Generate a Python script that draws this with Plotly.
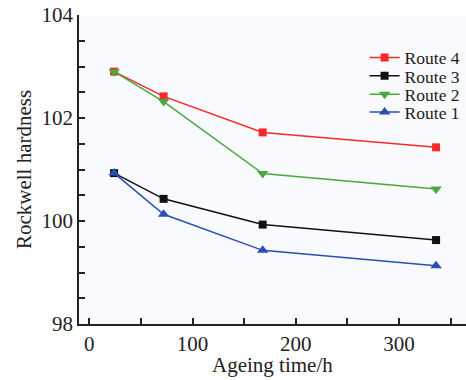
import plotly.graph_objects as go

time_h = [24, 72, 168, 336]
route4 = [102.90, 102.42, 101.72, 101.43]
route3 = [100.93, 100.43, 99.93, 99.63]
route2 = [102.90, 102.32, 100.92, 100.62]
route1 = [100.93, 100.13, 99.43, 99.13]

series = [
    ("Route 4", route4, "#f52a2a", "square", 8),
    ("Route 3", route3, "#111111", "square", 8),
    ("Route 2", route2, "#4aa83c", "triangle-down", 10),
    ("Route 1", route1, "#2a4fb0", "triangle-up", 10),
]
legend_ids = ["legend", "legend2", "legend3", "legend4"]
legend_rows_y = [0.862, 0.803, 0.743, 0.686]

font = "Liberation Serif, Times New Roman, serif"

fig = go.Figure()
for (name, vals, col, sym, sz), lid in zip(series, legend_ids):
    fig.add_trace(go.Scatter(
        x=time_h, y=vals, name=name, mode="lines+markers",
        line=dict(color=col, width=1.5),
        marker=dict(symbol=sym, size=sz, color=col),
        legend=lid,
    ))

legends = {}
for lid, ly in zip(legend_ids, legend_rows_y):
    legends[lid] = dict(
        x=0.738, y=ly, xanchor="left", yanchor="middle",
        bgcolor="rgba(0,0,0,0)", font=dict(size=17.5, family=font, color="#222222"),
        itemwidth=30,
    )

fig.update_layout(
    width=466, height=380,
    margin=dict(l=79, r=0, t=15, b=56, autoexpand=False),
    paper_bgcolor="white",
    plot_bgcolor="#f8fafd",
    font=dict(family=font, color="#222222"),
    showlegend=True,
    **legends,
    xaxis=dict(
        range=[-10, 365], showgrid=False, zeroline=False, automargin=False,
        showline=True, linecolor="#222222", linewidth=1.5,
        tickmode="array", tickvals=[0, 100, 200, 300],
        ticks="inside", ticklen=6, tickwidth=1.5, tickcolor="#222222",
        minor=dict(tickvals=[50, 150, 250, 350], ticks="inside", ticklen=6, tickwidth=1.5, tickcolor="#222222"),
        tickfont=dict(size=21, family=font),
    ),
    yaxis=dict(
        range=[98, 104], showgrid=False, zeroline=False, automargin=False,
        showline=True, linecolor="#222222", linewidth=1.5,
        tickmode="array", tickvals=[98, 100, 102, 104],
        ticks="inside", ticklen=6, tickwidth=1.5, tickcolor="#222222",
        minor=dict(tickvals=[98.5, 99, 99.5, 100.5, 101, 101.5, 102.5, 103, 103.5], ticks="inside", ticklen=6, tickwidth=1.5, tickcolor="#222222"),
        tickfont=dict(size=21, family=font),
        title=dict(text="Rockwell hardness", font=dict(size=21, family=font), standoff=4),
    ),
    annotations=[dict(
        text="Ageing time/h", xref="paper", yref="paper", x=0.5, y=-0.133,
        xanchor="center", yanchor="middle", showarrow=False,
        font=dict(size=21, family=font, color="#222222"),
    )],
)

fig.write_html("out.html", config={"displayModeBar": False},
               post_script="document.body.style.margin='0';")
